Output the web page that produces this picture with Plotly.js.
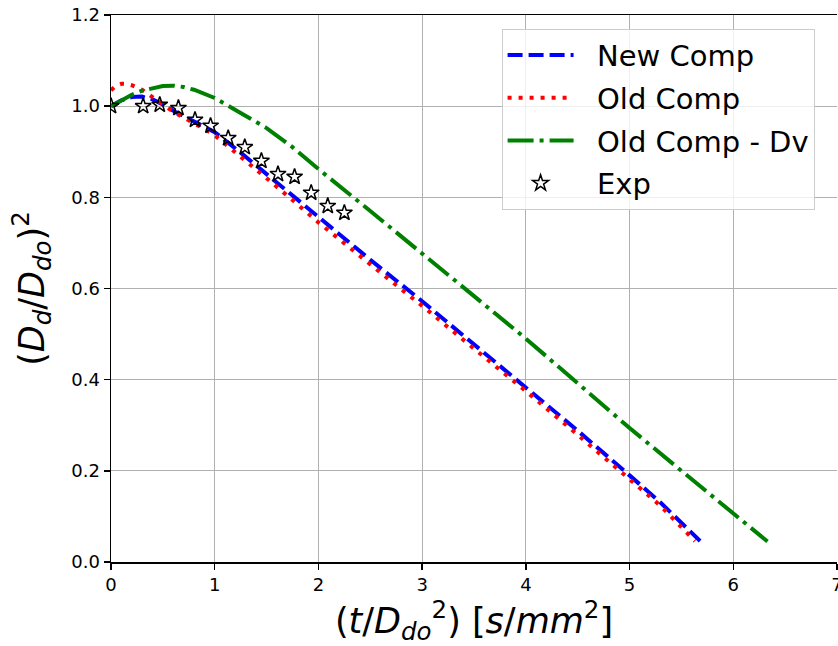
<!DOCTYPE html>
<html>
<head>
<meta charset="utf-8">
<script src="https://cdn.plot.ly/plotly-3.0.1.min.js"></script>
<style>html,body{margin:0;padding:0;background:#fff;}#chart{width:838px;height:646px;}</style>
</head>
<body>
<div id="chart"></div>
<script>
// New Comp (blue dashed)
const newCompX = [0, 0.1, 0.2, 0.3, 0.4, 0.5, 0.6, 0.7, 0.8, 0.9, 1.0, 1.25, 1.5, 1.75, 2.0, 2.5, 3.0, 3.5, 4.0, 4.5, 5.0, 5.3, 5.68];
const newCompY = [1.0, 1.013, 1.02, 1.021, 1.015, 1.004, 0.99, 0.978, 0.968, 0.956, 0.943, 0.898, 0.851, 0.803, 0.755, 0.663, 0.572, 0.478, 0.384, 0.288, 0.19, 0.13, 0.046];
// Old Comp (red dotted)
const oldCompX = [0, 0.05, 0.1, 0.15, 0.2, 0.3, 0.4, 0.5, 0.6, 0.7, 0.8, 0.9, 1.0, 1.25, 1.5, 1.75, 2.0, 2.5, 3.0, 3.5, 4.0, 4.5, 5.0, 5.3, 5.63];
const oldCompY = [1.035, 1.045, 1.049, 1.049, 1.046, 1.036, 1.02, 1.003, 0.988, 0.975, 0.963, 0.95, 0.936, 0.89, 0.842, 0.794, 0.745, 0.653, 0.562, 0.468, 0.375, 0.279, 0.183, 0.123, 0.046];
// Old Comp - Dv (green dash-dot)
const oldDvX = [0, 0.1, 0.2, 0.3, 0.4, 0.5, 0.6, 0.7, 0.8, 0.9, 1.0, 1.25, 1.5, 1.75, 2.0, 2.5, 3.0, 3.5, 4.0, 4.5, 5.0, 5.5, 6.0, 6.33];
const oldDvY = [1.0, 1.013, 1.025, 1.034, 1.04, 1.044, 1.045, 1.042, 1.036, 1.028, 1.018, 0.985, 0.952, 0.91, 0.862, 0.77, 0.676, 0.583, 0.49, 0.392, 0.294, 0.2, 0.108, 0.045];
// Exp (stars)
const expX = [0, 0.31, 0.47, 0.65, 0.81, 0.96, 1.13, 1.29, 1.45, 1.61, 1.77, 1.93, 2.09, 2.25];
const expY = [1.0, 1.0, 1.003, 0.996, 0.97, 0.957, 0.93, 0.91, 0.88, 0.851, 0.845, 0.81, 0.781, 0.766];

const seriesNames = ['New Comp', 'Old Comp', 'Old Comp - Dv', 'Exp'];
const xTicks = [0, 1, 2, 3, 4, 5, 6, 7];
const yTicks = [0.0, 0.2, 0.4, 0.6, 0.8, 1.0, 1.2];
const yTickText = ['0.0', '0.2', '0.4', '0.6', '0.8', '1.0', '1.2'];

const FONT = 'DejaVu Sans, sans-serif';
const PAD = '\u00A0\u00A0';

const traces = [
  {x: newCompX, y: newCompY, name: PAD + seriesNames[0], mode: 'lines', legendgroup: 'a',
   line: {color: '#0000ff', width: 4, dash: '15px,6px'}},
  {x: oldCompX, y: oldCompY, name: PAD + seriesNames[1], mode: 'lines', legendgroup: 'b',
   line: {color: '#ff0000', width: 4, dash: '4px,7px'}},
  {x: oldDvX, y: oldDvY, name: PAD + seriesNames[2], mode: 'lines', legendgroup: 'c',
   line: {color: '#008000', width: 4, dash: '26px,6px,4px,6px'}},
  {x: expX, y: expY, name: PAD + seriesNames[3], mode: 'markers', legendgroup: 'd',
   marker: {symbol: 'star-open', size: 12, color: '#000000', line: {color: '#000000', width: 1.5}}}
];

const layout = {
  width: 838, height: 646,
  margin: {l: 111, r: 1, t: 15, b: 84},
  paper_bgcolor: '#ffffff', plot_bgcolor: '#ffffff',
  font: {family: FONT, color: '#000000', size: 18},
  showlegend: true,
  legend: {
    x: 0.538, y: 0.975, xanchor: 'left', yanchor: 'top',
    bgcolor: 'rgba(255,255,255,0.8)', bordercolor: '#cccccc', borderwidth: 1,
    font: {family: FONT, size: 29, color: '#000000'},
    tracegroupgap: 2, itemwidth: 66
  },
  xaxis: {
    range: [0, 7], tickvals: xTicks, ticktext: xTicks.map(String),
    ticklabeloverflow: 'allow',
    showgrid: true, gridcolor: '#b0b0b0', gridwidth: 1,
    showline: true, linecolor: '#000000', linewidth: 1.5, mirror: true,
    ticks: 'outside', ticklen: 6, tickwidth: 1.5, tickcolor: '#000000',
    tickfont: {family: FONT, size: 18, color: '#000000'},
    zeroline: false,
    title: {text: '(<i>t</i>/<i>D</i><sub><i>do</i></sub><sup>2</sup>) [<i>s</i>/<i>mm</i><sup>2</sup>]',
            font: {family: FONT, size: 35, color: '#000000'}, standoff: 17}
  },
  yaxis: {
    range: [0, 1.2], tickvals: yTicks, ticktext: yTickText,
    showgrid: true, gridcolor: '#b0b0b0', gridwidth: 1,
    showline: true, linecolor: '#000000', linewidth: 1.5, mirror: false,
    ticks: 'outside', ticklen: 6, tickwidth: 1.5, tickcolor: '#000000',
    tickfont: {family: FONT, size: 18, color: '#000000'},
    zeroline: false,
    title: {text: '(<i>D</i><sub><i>d</i></sub>/<i>D</i><sub><i>do</i></sub>)<sup>2</sup>',
            font: {family: FONT, size: 35, color: '#000000'}, standoff: 16}
  }
};

Plotly.newPlot('chart', traces, layout, {displayModeBar: false, staticPlot: true});
</script>
</body>
</html>
